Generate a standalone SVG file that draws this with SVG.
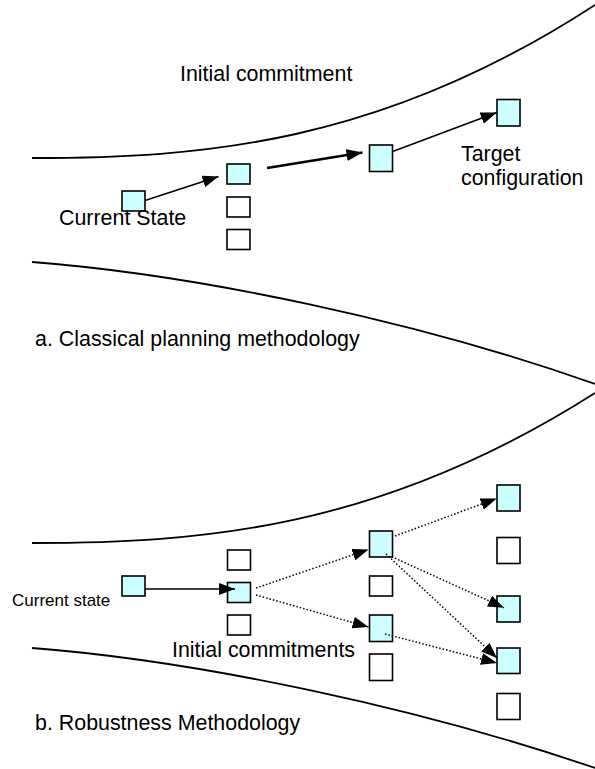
<svg xmlns="http://www.w3.org/2000/svg" width="595" height="769" viewBox="0 0 595 769">
  <style>
    .bg { fill: #ffffff; }
    .curve { fill: none; stroke: #000; stroke-width: 1.8; }
    .full { fill: #ccffff; stroke: #000; stroke-width: 1.6; }
    .empty { fill: #ffffff; stroke: #000; stroke-width: 1.6; }
    .lbl { font-family: "Liberation Sans", Arial, sans-serif; font-size: 21.4px; fill: #000; }
    .small { font-size: 17px; }
    .solid { fill: none; stroke: #000; stroke-width: 1.6; marker-end: url(#arr); }
    .thick { stroke-width: 2.6; }
    .dot { fill: none; stroke: #000; stroke-width: 1.5; stroke-dasharray: 1.5 2; marker-end: url(#arr); }
  </style>
  <defs>
    <marker id="arr" viewBox="0 0 16 12" markerWidth="16" markerHeight="12" refX="16" refY="6" orient="auto" markerUnits="userSpaceOnUse">
      <path d="M0,0 L16,6 L0,12 z" fill="#000"/>
    </marker>
  </defs>
  <rect class="bg" x="0" y="0" width="595" height="769"/>

  <g id="boundaries">
    <path class="curve" d="M32,158 C200,158 380,145 595,5"/>
    <path class="curve" d="M32,262 C200,275 420,322 595,384"/>
    <path class="curve" d="M32,543 C200,543 380,530 595,393"/>
    <path class="curve" d="M32,648 C200,661 420,708 595,768"/>
  </g>

  <!-- a. Classical planning -->
  <g id="a-current"><rect class="full" x="122" y="191" width="23" height="20"/></g>
  <g id="a-c2-1"><rect class="full" x="227" y="164" width="23" height="20"/></g>
  <g id="a-c2-2"><rect class="empty" x="227" y="197" width="23" height="20"/></g>
  <g id="a-c2-3"><rect class="empty" x="227" y="229.5" width="23" height="20"/></g>
  <g id="a-c3"><rect class="full" x="369.5" y="145" width="23" height="26.5"/></g>
  <g id="a-target"><rect class="full" x="497" y="99.5" width="23" height="26.5"/></g>

  <!-- b. Robustness -->
  <g id="b-current"><rect class="full" x="122" y="576" width="23" height="20"/></g>
  <g id="b-c2-1"><rect class="empty" x="227.5" y="550" width="23" height="20"/></g>
  <g id="b-c2-2"><rect class="full" x="227.5" y="582.5" width="23" height="20"/></g>
  <g id="b-c2-3"><rect class="empty" x="227.5" y="615" width="23" height="20"/></g>
  <g id="b-c3-1"><rect class="full" x="369.5" y="531" width="23" height="26"/></g>
  <g id="b-c3-2"><rect class="empty" x="369.5" y="576" width="23" height="20"/></g>
  <g id="b-c3-3"><rect class="full" x="369.5" y="615" width="23" height="26.5"/></g>
  <g id="b-c3-4"><rect class="empty" x="369.5" y="654" width="23" height="26.5"/></g>
  <g id="b-c4-1"><rect class="full" x="497" y="485" width="23" height="26"/></g>
  <g id="b-c4-2"><rect class="empty" x="497" y="537.5" width="23" height="26"/></g>
  <g id="b-c4-3"><rect class="full" x="497" y="596" width="23" height="26"/></g>
  <g id="b-c4-4"><rect class="full" x="497" y="648" width="23" height="25.5"/></g>
  <g id="b-c4-5"><rect class="empty" x="497" y="693.5" width="23" height="26"/></g>

  <g id="connectors">
    <line class="solid" x1="145" y1="200.5" x2="218.5" y2="176.5"/>
    <line class="solid thick" x1="267" y1="168" x2="362.5" y2="152.5"/>
    <line class="solid" x1="392.7" y1="151.5" x2="496.7" y2="112.5"/>

    <line class="solid" x1="145" y1="589" x2="235" y2="589"/>
    <line class="dot" x1="256" y1="588" x2="368.5" y2="549.5"/>
    <line class="dot" x1="256" y1="595" x2="368.5" y2="627"/>
    <line class="dot" x1="395" y1="536" x2="496.7" y2="498.5"/>
    <line class="dot" x1="391.7" y1="556.7" x2="504" y2="607.7"/>
    <line class="dot" x1="386" y1="554" x2="497" y2="658"/>
    <line class="dot" x1="385" y1="634" x2="497" y2="663"/>
  </g>

  <g id="labels">
    <text class="lbl" x="180" y="81">Initial commitment</text>
    <text class="lbl" x="461" y="161">Target</text>
    <text class="lbl" x="461" y="185">configuration</text>
    <text class="lbl" x="59" y="225">Current State</text>
    <text class="lbl" x="35" y="346">a. Classical planning methodology</text>
    <text class="lbl small" x="12" y="606">Current state</text>
    <text class="lbl" x="172" y="657">Initial commitments</text>
    <text class="lbl" x="35" y="730">b. Robustness Methodology</text>
  </g>
</svg>
